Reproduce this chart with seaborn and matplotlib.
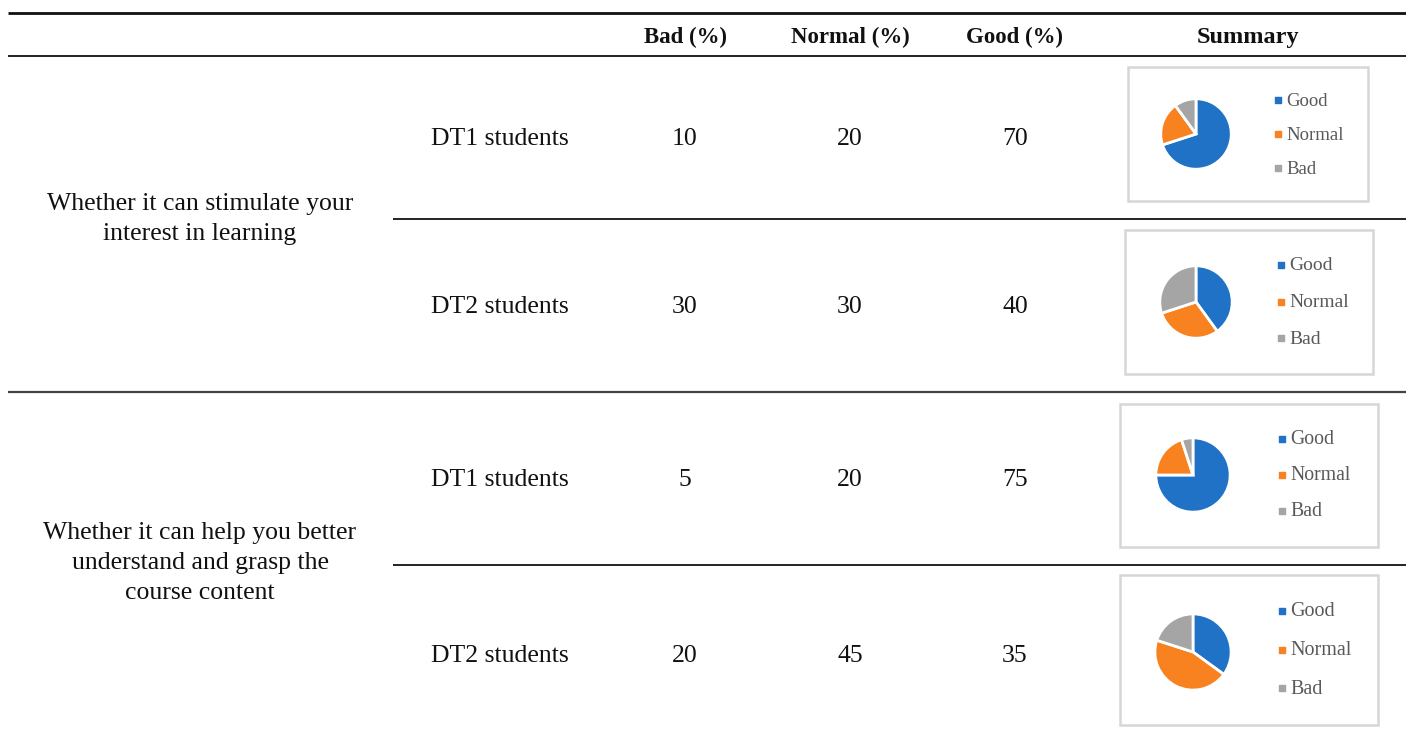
import matplotlib
matplotlib.use("Agg")
import matplotlib.pyplot as plt
from matplotlib.patches import Rectangle
import seaborn as sns
import pandas as pd

# ---- data ----
questions = [
    "Whether it can stimulate your\ninterest in learning",
    "Whether it can help you better\nunderstand and grasp the\ncourse content",
]
groups = ["DT1 students", "DT2 students", "DT1 students", "DT2 students"]
bad_pct = [10, 30, 5, 20]
normal_pct = [20, 30, 20, 45]
good_pct = [70, 40, 75, 35]
columns = ["Bad (%)", "Normal (%)", "Good (%)", "Summary"]
pie_labels = ["Good", "Normal", "Bad"]

table = pd.DataFrame({"group": groups, "Bad": bad_pct,
                      "Normal": normal_pct, "Good": good_pct})

sns.set_theme(style="white")
plt.rcParams["font.family"] = ["Liberation Serif", "DejaVu Serif"]

pie_colors = ["#1f72c6", "#f7821f", "#a5a5a5"]
text_col = "#111111"

W, H = 1406, 733
fig = plt.figure(figsize=(W / 100, H / 100), dpi=100)
ax = fig.add_axes([0, 0, 1, 1])
ax.set_xlim(0, W)
ax.set_ylim(H, 0)
ax.axis("off")

# ---- rules ----
ax.plot([8, W], [13, 13], color="#111111", lw=2.0, solid_capstyle="butt")
ax.plot([8, W], [56, 56], color="#111111", lw=1.3, solid_capstyle="butt")
ax.plot([393, W], [219, 219], color="#111111", lw=1.3, solid_capstyle="butt")
ax.plot([8, W], [392, 392], color="#444444", lw=1.6, solid_capstyle="butt")
ax.plot([393, W], [565, 565], color="#111111", lw=1.3, solid_capstyle="butt")

# ---- header ----
col_x = [685, 850, 1015, 1248]
head_fs = [16.5, 16.5, 16.5, 17.5]
for x, name, fs in zip(col_x, columns, head_fs):
    ax.text(x, 37, name, ha="center", va="center", fontsize=fs,
            fontweight="bold", color=text_col)

# ---- body ----
row_y = [139, 307, 480, 656]
q_y = [219, 563]
body_fs = 18.5
for y, q in zip(q_y, questions):
    ax.text(200, y, q, ha="center", va="center", fontsize=body_fs,
            color=text_col, linespacing=1.45)

for i, row in table.iterrows():
    y = row_y[i]
    ax.text(500, y, row["group"], ha="center", va="center", fontsize=body_fs, color=text_col)
    for x, key in zip(col_x[:3], ["Bad", "Normal", "Good"]):
        ax.text(x, y, str(row[key]), ha="center", va="center", fontsize=body_fs, color=text_col)

# ---- summary pies ----
# (box left, top, right, bottom, pie cx, cy, r, legend x, legend y0, step, font)
layout = [
    (1128, 67, 1368, 201, 1196, 134, 37, 1278, 100, 34, 13.5),
    (1125, 230, 1373, 374, 1196, 302, 38, 1281, 265, 36.5, 14.0),
    (1120, 404, 1378, 547, 1193, 475, 39, 1282, 439, 36, 14.2),
    (1120, 575, 1378, 725, 1193, 652, 40, 1282, 611, 38.5, 14.5),
]

for i, row in table.iterrows():
    bl, bt, br, bb, cx, cy, r, lx, ly, step, fs = layout[i]
    ax.add_patch(Rectangle((bl, bt), br - bl, bb - bt, fill=False,
                           edgecolor="#d6d6d6", lw=1.8))
    pax = fig.add_axes([(cx - r) / W, 1 - (cy + r) / H, 2 * r / W, 2 * r / H])
    vals = [row["Good"], row["Normal"], row["Bad"]]
    pax.pie(vals, colors=pie_colors, startangle=90, counterclock=False,
            radius=1.0, wedgeprops=dict(edgecolor="white", linewidth=2.0))
    pax.set_xlim(-1.05, 1.05)
    pax.set_ylim(-1.05, 1.05)
    pax.set_aspect("equal")
    pax.axis("off")
    for k, (lab, c) in enumerate(zip(pie_labels, pie_colors)):
        yy = ly + k * step
        ax.scatter([lx], [yy], marker="s", s=13, color=c, zorder=5)
        ax.text(lx + 8, yy + 1, lab, ha="left", va="center", fontsize=fs, color="#595959")

fig.savefig("out.png", dpi=100, facecolor="white")
